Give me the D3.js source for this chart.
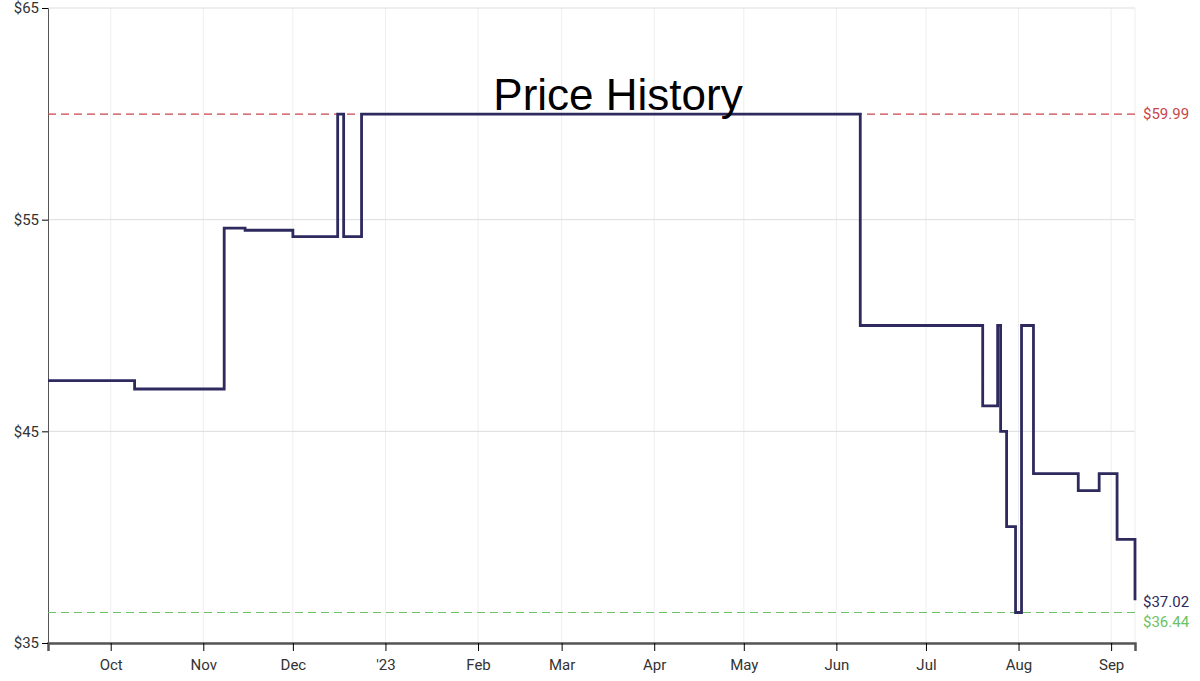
<!DOCTYPE html>
<html><head><meta charset="utf-8">
<script src="https://cdn.jsdelivr.net/npm/d3@7"></script>
<style>body{margin:0;background:#fff;font-family:Roboto,sans-serif}</style>
</head><body><div id="chart"></div>
<script>
// step points: price holds from this date until the next one
const dates = ["2022-09-10","2022-10-09","2022-11-08","2022-11-15","2022-12-01","2022-12-16","2022-12-18","2022-12-24",
  "2023-06-09","2023-07-20","2023-07-25","2023-07-26","2023-07-28","2023-07-31","2023-08-02","2023-08-06",
  "2023-08-21","2023-08-28","2023-09-03","2023-09-09"];
const prices = [47.4,47.0,54.6,54.5,54.2,59.99,54.2,59.99,50.0,46.2,50.0,45.0,40.5,36.44,50.0,43.0,42.2,43.0,39.9,37.02];
const yTicks = [35,45,55,65];
const highest = 59.99, lowest = 36.44, current = 37.02;

const margin = {top: 8, right: 65, bottom: 38, left: 48},
    width = 1200 - margin.left - margin.right,
    height = 681 - margin.top - margin.bottom;

const svg = d3.select("#chart").append("svg")
    .attr("width", 1200).attr("height", 681)
    .append("g")
    .attr("transform", `translate(${margin.left},${margin.top})`);

const parse = d3.timeParse("%Y-%m-%d");
const data = dates.map((d, i) => ({date: parse(d), price: prices[i]}));

const x = d3.scaleTime().domain([parse("2022-09-10"), parse("2023-09-09")]).range([0, width]);
const y = d3.scaleLinear().domain([35, 65]).range([height, 0]);

// grid
const months = x.ticks(d3.timeMonth.every(1));
svg.append("g").selectAll("line").data(months).join("line")
    .attr("x1", d => x(d)).attr("x2", d => x(d)).attr("y1", 0).attr("y2", height)
    .attr("stroke", "#eee");
svg.append("g").selectAll("line").data(yTicks).join("line")
    .attr("x1", 0).attr("x2", width).attr("y1", d => y(d)).attr("y2", d => y(d))
    .attr("stroke", "#ddd");
svg.append("line").attr("x1", width).attr("x2", width).attr("y1", 0).attr("y2", height).attr("stroke", "#eee");

// axes
const fmt = d => d.getMonth() === 0 ? "'" + d3.timeFormat("%y")(d) : d3.timeFormat("%b")(d);
const xa = svg.append("g").attr("transform", `translate(0,${height})`)
    .call(d3.axisBottom(x).tickValues(months).tickFormat(fmt).tickSize(8).tickPadding(8));
xa.select(".domain").attr("stroke", "#555").attr("stroke-width", 2.5);
xa.selectAll("text").attr("font-size", 15).attr("fill", "#333").attr("font-family", "Roboto");
const ya = svg.append("g")
    .call(d3.axisLeft(y).tickValues(yTicks).tickFormat(d => "$" + d).tickSize(6).tickPadding(3));
ya.select(".domain").attr("stroke", "#555");
ya.selectAll("text").attr("font-size", 15).attr("fill", "#333").attr("font-family", "Roboto");

// reference lines
[[highest, "#c8464a"], [lowest, "#6cc264"]].forEach(([v, c]) => {
  svg.append("line").attr("x1", 0).attr("x2", width).attr("y1", y(v)).attr("y2", y(v))
    .attr("stroke", c).attr("stroke-dasharray", "8,5").attr("stroke-width", 1.2);
});
const labels = [[highest, "#c8464a", y(highest) + 5], [current, "#2e2a5e", y(current) + 7], [lowest, "#6cc264", y(lowest) + 14]];
labels.forEach(([v, c, yy]) => {
  svg.append("text").attr("x", width + 8).attr("y", yy).attr("fill", c)
    .attr("font-size", 15).text("$" + v.toFixed(2));
});

// price line
svg.append("path").datum(data)
    .attr("fill", "none").attr("stroke", "#2e2a5e").attr("stroke-width", 2.8)
    .attr("d", d3.line().curve(d3.curveStepAfter).x(d => x(d.date)).y(d => y(d.price)));

svg.append("text").attr("x", 570).attr("y", 102).attr("text-anchor", "middle")
    .attr("font-size", 44).attr("font-family", "Liberation Sans, Arial").attr("fill", "#000")
    .text("Price History");
</script></body></html>
